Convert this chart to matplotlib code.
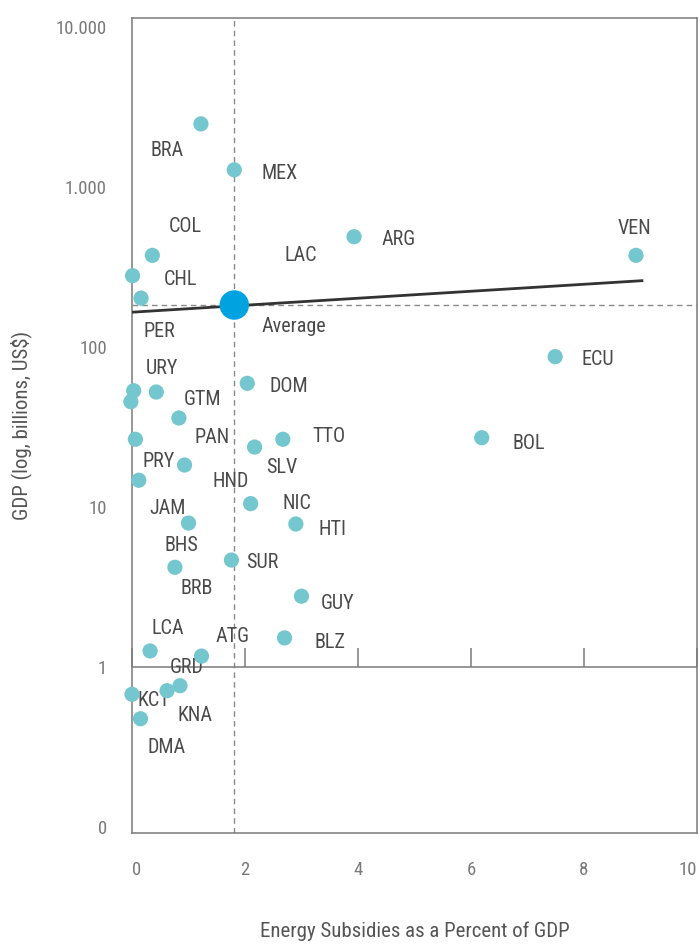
import matplotlib
matplotlib.use("Agg")
import matplotlib.pyplot as plt
from matplotlib import font_manager

# pick a narrow sans if one is around, plain Roboto otherwise
installed = {f.name for f in font_manager.fontManager.ttflist}
FONT = "DejaVu Sans"
for fam in ["Roboto Condensed", "Liberation Sans Narrow", "Roboto", "Liberation Sans"]:
    if fam in installed:
        FONT = fam
        break
plt.rcParams["font.family"] = [FONT, "DejaVu Sans"]

# energy subsidies (% of GDP) vs GDP (billions US$)
countries = ["BRA", "MEX", "COL", "CHL", "PER", "ARG", "VEN", "ECU", "BOL",
             "URY", "GTM", "CRI", "PAN", "PRY", "DOM", "TTO", "SLV", "HND",
             "JAM", "NIC", "HTI", "BHS", "SUR", "BRB", "GUY", "BLZ", "LCA",
             "ATG", "GRD", "KNA", "KCT", "DMA"]
subsidies = [1.22, 1.81, 0.36, 0.01, 0.16, 3.93, 8.92, 7.49, 6.19,
             0.03, 0.43, -0.02, 0.83, 0.06, 2.04, 2.67, 2.17, 0.93,
             0.12, 2.10, 2.90, 1.00, 1.76, 0.76, 3.00, 2.70, 0.32,
             1.23, 0.85, 0.62, 0.00, 0.15]
gdp = [2480, 1280, 374, 279, 202, 489, 374, 87, 27.1,
       53.3, 52.3, 45.5, 36.0, 26.5, 59.3, 26.5, 23.7, 18.3,
       14.7, 10.5, 7.83, 7.94, 4.66, 4.20, 2.77, 1.52, 1.26,
       1.17, 0.764, 0.711, 0.675, 0.475]

# label placement, pixels from the marker (x right, y up)
label_offsets = [(-34, -27), (45, -4), (33, 29), (48, -4), (18, -33), (45, -3),
                 (-2, 27), (43, -3), (47, -6), (28, 22), (46, -7), (17, -20),
                 (33, -20), (23, -22), (42, -3), (46, 3), (27, -20), (46, -16),
                 (29, -28), (46, 0), (37, -6), (-7, -22), (31, -2), (22, -21),
                 (36, -7), (45, -5), (18, 22), (31, 20), (7, 18), (28, -25),
                 (22, -6), (26, -29)]

avg_subsidy = 1.81
avg_gdp = 183
trend_x = [0, 9.05]
trend_y = [165, 260]

xticks = [0, 2, 4, 6, 8, 10]
yticks = [0.1, 1, 10, 100, 1000, 10000]
ytick_labels = ["0", "1", "10", "100", "1.000", "10.000"]

DOT = "#74c7cf"
AVG = "#00a3e0"
SPINE = "#7a7a7a"
TICK_TXT = "#7a7a7a"
LABEL_TXT = "#4a4a4a"

fig = plt.figure(figsize=(7, 9.46), dpi=100)
ax = fig.add_axes([132 / 700, 113 / 946, 565 / 700, 815 / 946])

ax.set_yscale("log")
ax.set_xlim(0, 10)
ax.set_ylim(10 ** -1.0375, 10 ** 4.05625)

for s in ax.spines.values():
    s.set_color(SPINE)
    s.set_linewidth(1.1)

# reference lines through the average
ax.axvline(avg_subsidy, color="#8a8a8a", lw=1, ls=(0, (4, 3)), zorder=1)
ax.axhline(avg_gdp, color="#8a8a8a", lw=1, ls=(0, (4, 3)), zorder=1)

# solid baseline at 1 with upward ticks
ax.axhline(1, color=SPINE, lw=1.1, zorder=1)
ax.vlines(xticks, 1, 10 ** (19 / 160), color=SPINE, lw=1.1, zorder=1, clip_on=False)

ax.plot(trend_x, trend_y, color="#333333", lw=2, solid_capstyle="butt", zorder=3)

ax.scatter(subsidies, gdp, s=120, color=DOT, edgecolors="none", zorder=4, clip_on=False)
ax.scatter([avg_subsidy], [avg_gdp], s=450, color=AVG, edgecolors="none", zorder=5)

for name, x, y, (dx, dy) in zip(countries, subsidies, gdp, label_offsets):
    ax.annotate(name, (x, y), xytext=(dx, dy), textcoords="offset pixels",
                ha="center", va="center", fontsize=14.5, color=LABEL_TXT)

ax.annotate("Average", (avg_subsidy, avg_gdp), xytext=(60, -21), textcoords="offset pixels",
            ha="center", va="center", fontsize=14.5, color=LABEL_TXT)
ax.annotate("LAC", (avg_subsidy, avg_gdp), xytext=(66, 50), textcoords="offset pixels",
            ha="center", va="center", fontsize=14.5, color=LABEL_TXT)

ax.set_xticks(xticks)
ax.set_xticklabels([str(t) for t in xticks])
ax.set_yticks(yticks)
ax.set_yticklabels(ytick_labels)
ax.minorticks_off()
ax.tick_params(axis="both", length=0, labelsize=13.5, labelcolor=TICK_TXT)
ax.tick_params(axis="x", pad=20)
ax.tick_params(axis="y", pad=18)
xlabels = ax.get_xticklabels()
xlabels[0].set_ha("left")
xlabels[-1].set_ha("right")

ax.set_xlabel("Energy Subsidies as a Percent of GDP", fontsize=15, color="#555555")
ax.set_ylabel("GDP (log, billions, US$)", fontsize=15, color="#555555")
ax.xaxis.set_label_coords(0.5, -0.109)
ax.yaxis.set_label_coords(-0.177, 0.5)

fig.savefig("out.png", dpi=100)
